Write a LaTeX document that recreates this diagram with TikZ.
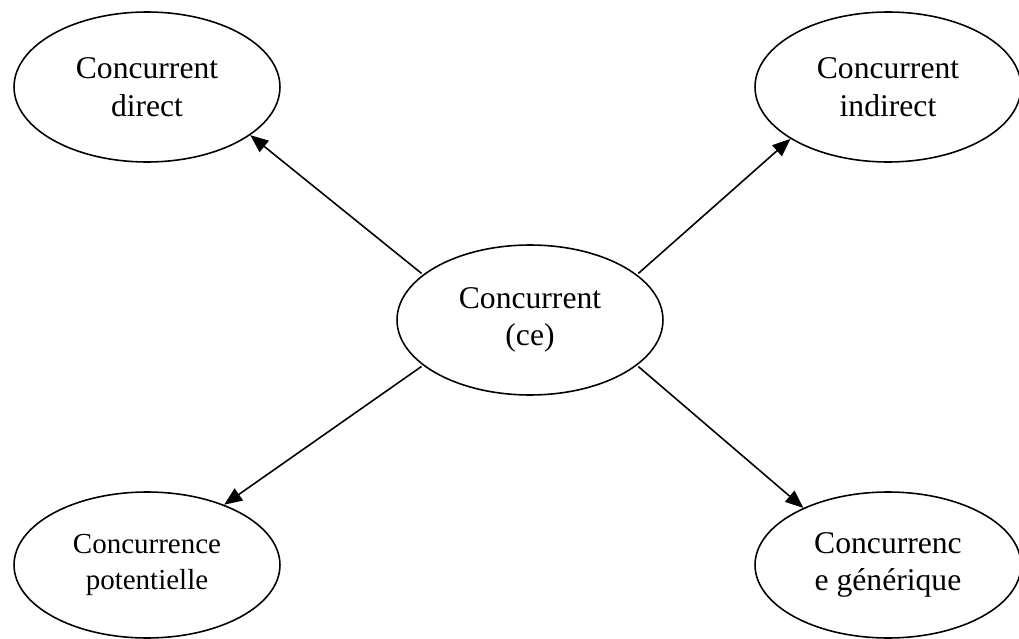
\documentclass[tikz,border=0pt]{standalone}
\usepackage{fontspec}
\setmainfont{Liberation Serif}
\usepackage{tikz}
\usetikzlibrary{shapes.geometric, arrows.meta, positioning}
\tikzset{
    bubble/.style={draw=black, line width=0.9pt, ellipse, minimum width=5.32cm, minimum height=3cm, align=center, font=\fontsize{18}{21.5}\selectfont},
    bubblelow/.style={bubble, minimum height=2.92cm},
    link/.style={line width=0.9pt, -{Triangle[length=3.6mm,width=2.9mm]}, shorten <=1pt}
}

\begin{document}
\begin{tikzpicture}[x=0.02cm, y=-0.02cm]
    \useasboundingbox (0,0) rectangle (1019,639);

    % Centre
    \node[bubble] (ce) at (530,320) {Concurrent\\(ce)};

    % Top row
    \node[bubble] (direct) at (147,87) {Concurrent\\direct};
    \node[bubble] (indirect) at (888,87) {Concurrent\\indirect};

    % Bottom row
    \node[bubblelow, font=\fontsize{16.5}{20}\selectfont] (potentielle) at (147,565) {Concurrence\\potentielle};
    \node[bubblelow] (generique) at (888,565) {Concurrenc\\e générique};

    \draw[link] (ce.157) -- (direct.-25);
    \draw[link] (ce.23) -- (indirect.-152);
    \draw[link] (ce.203) -- (potentielle.38);
    \draw[link] (ce.-23) -- (generique.146);
\end{tikzpicture}
\end{document}
